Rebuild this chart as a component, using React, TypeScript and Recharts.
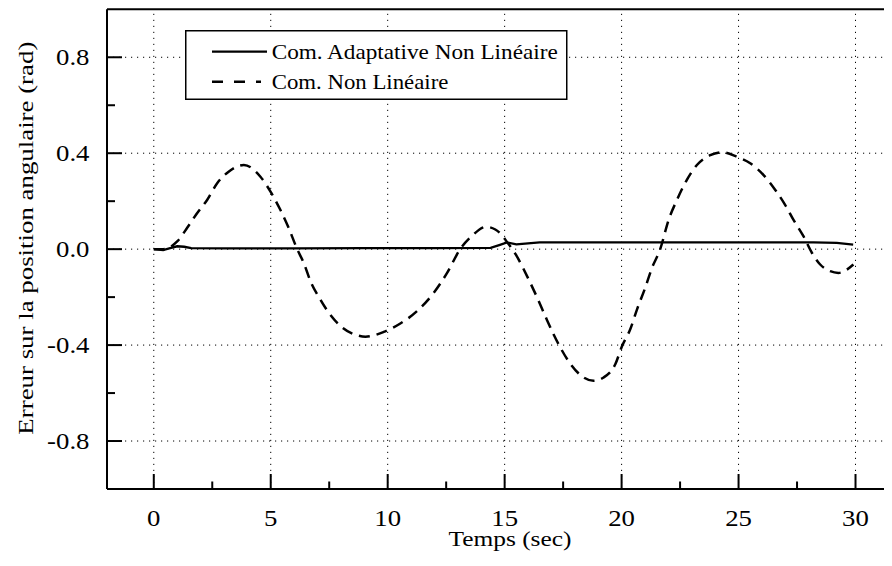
import React from 'react';
import { LineChart, Line, XAxis, YAxis, ReferenceLine, Legend, Label } from 'recharts';

// ---- data ----
const nonLinTime = [
  0, 0.4, 1.0, 1.45, 1.85, 2.28, 2.71, 3.2, 3.85, 4.56, 4.99, 5.41, 5.77, 6.13, 6.41, 6.7,
  7.12, 7.48, 7.98, 8.69, 9.05, 9.83, 10.54, 11.26, 11.97, 12.54, 13.1, 13.6, 14.2, 14.6,
  14.85, 15.1, 15.46, 16.03, 16.38, 16.74, 17.09, 17.38, 17.81, 18.38, 18.8, 19.23, 19.73,
  20.02, 20.37, 20.66, 21.01, 21.3, 21.65, 22.01, 22.37, 22.79, 23.22, 23.79, 24.29, 24.93,
  25.5, 26.07, 26.57, 26.99, 27.35, 27.78, 28.14, 28.49, 28.92, 29.27, 29.91,
];
const nonLinValue = [
  0, 0.0, 0.032, 0.092, 0.15, 0.205, 0.275, 0.323, 0.351, 0.302, 0.24, 0.164, 0.088, 0, -0.057, -0.134,
  -0.21, -0.265, -0.32, -0.359, -0.365, -0.345, -0.31, -0.258, -0.182, -0.099, 0, 0.055, 0.093, 0.082,
  0.062, 0.03, -0.02, -0.127, -0.2, -0.28, -0.355, -0.41, -0.478, -0.535, -0.549, -0.535, -0.48,
  -0.404, -0.334, -0.251, -0.161, -0.078, 0, 0.122, 0.206, 0.289, 0.351, 0.392, 0.404, 0.385,
  0.358, 0.309, 0.247, 0.185, 0.122, 0.053, -0.016, -0.064, -0.092, -0.099, -0.064,
];
const adaptTime = [
  0, 0.4, 0.7, 1.0, 1.3, 1.6, 3, 6, 9, 12, 14.4, 14.8, 15.1, 15.5, 16, 16.5, 20, 25, 28.2, 29.2, 29.9,
];
const adaptValue = [
  0, -0.004, 0.004, 0.012, 0.01, 0.004, 0.003, 0.003, 0.004, 0.004, 0.005, 0.018, 0.028, 0.02, 0.024,
  0.028, 0.028, 0.028, 0.028, 0.026, 0.019,
];

const xMajorTicks = [0, 5, 10, 15, 20, 25, 30];
const xMinorTicks = [2.5, 7.5, 12.5, 17.5, 22.5, 27.5];
const xTickLabels = ['0', '5', '10', '15', '20', '25', '30'];
const yMajorTicks = [0.8, 0.4, 0, -0.4, -0.8];
const yMinorTicks = [0.6, 0.2, -0.2, -0.6];
const yTickLabels = ['0.8', '0.4', '0.0', '-0.4', '-0.8'];

const seriesNames = ['Com. Adaptative Non Linéaire', 'Com. Non Linéaire'];
const xTitle = 'Temps (sec)';
const yTitle = 'Erreur sur la position angulaire (rad)';

const nonLinData = nonLinTime.map((t, i) => ({ t, v: nonLinValue[i] }));
const adaptData = adaptTime.map((t, i) => ({ t, v: adaptValue[i] }));

const FONT = "'Liberation Serif', 'Times New Roman', serif";
const DASH = '11 7';
const STRETCH = 1.14;

function XTick(props: any) {
  const { x, y, payload } = props;
  const i = xMajorTicks.indexOf(payload.value);
  const major = i >= 0;
  return (
    <g>
      <line x1={x} x2={x} y1={y} y2={y - (major ? 15 : 7.5)} stroke="#000" strokeWidth={2} />
      {major && (
        <text
          transform={`translate(${x}, ${y + 37.3}) scale(${STRETCH}, 1)`}
          textAnchor="middle"
          fontFamily={FONT}
          fontSize={23.5}
          fill="#000"
        >
          {xTickLabels[i]}
        </text>
      )}
    </g>
  );
}

function YTick(props: any) {
  const { x, y, payload } = props;
  const i = yMajorTicks.indexOf(payload.value);
  const major = i >= 0;
  return (
    <g>
      <line x1={x} x2={x + (major ? 15 : 8)} y1={y} y2={y} stroke="#000" strokeWidth={2} />
      {major && (
        <text
          transform={`translate(${x - 17.5}, ${y + 8.2}) scale(${STRETCH}, 1)`}
          textAnchor="end"
          fontFamily={FONT}
          fontSize={23.5}
          fill="#000"
        >
          {yTickLabels[i]}
        </text>
      )}
    </g>
  );
}

function LegendBox() {
  return (
    <svg width={383} height={71} style={{ display: 'block' }}>
      <rect x={0.75} y={0.75} width={381} height={68.5} fill="#fff" stroke="#000" strokeWidth={1.5} />
      <line x1={27} x2={82} y1={21.7} y2={21.7} stroke="#000" strokeWidth={2.3} />
      <text x={86.7} y={29.3} fontFamily={FONT} fontSize={22} fill="#000" textLength={286} lengthAdjust="spacingAndGlyphs">
        {seriesNames[0]}
      </text>
      <line x1={27} x2={76} y1={51.7} y2={51.7} stroke="#000" strokeWidth={2.4} strokeDasharray="11 11" />
      <text x={86.7} y={59.3} fontFamily={FONT} fontSize={22} fill="#000" textLength={176.7} lengthAdjust="spacingAndGlyphs">
        {seriesNames[1]}
      </text>
    </svg>
  );
}

export default function App() {
  return (
    <LineChart width={884} height={558} margin={{ top: 1.3, right: 0, bottom: 0, left: 0 }}>
      <XAxis
        type="number"
        dataKey="t"
        domain={[-2, 31.56]}
        allowDataOverflow
        ticks={[...xMajorTicks, ...xMinorTicks]}
        interval={0}
        tickLine={false}
        tickSize={0}
        tickMargin={0}
        tick={(p: any) => <XTick {...p} />}
        height={77}
        axisLine={{ stroke: '#000', strokeWidth: 2 }}
      >
        <Label
          content={(p: any) => {
            const vb = p.viewBox || { x: 99, y: 481 };
            return (
              <text x={vb.x + 403} y={vb.y + 56.5} textAnchor="middle" fontFamily={FONT} fontSize={21} fill="#000" textLength={123} lengthAdjust="spacingAndGlyphs">
                {xTitle}
              </text>
            );
          }}
        />
      </XAxis>
      <YAxis
        type="number"
        domain={[-1, 1]}
        allowDataOverflow
        ticks={[...yMajorTicks, ...yMinorTicks]}
        interval={0}
        tickLine={false}
        tickSize={0}
        tickMargin={0}
        tick={(p: any) => <YTick {...p} />}
        width={99}
        axisLine={{ stroke: '#000', strokeWidth: 2 }}
      >
        <Label
          content={(p: any) => {
            const vb = p.viewBox || { x: 0, y: 1.3, width: 99, height: 479.7 };
            const cx = vb.x + vb.width - 73.7;
            const cy = vb.y + vb.height / 2 - 11;
            return (
              <text transform={`translate(${cx}, ${cy}) rotate(-90)`} textAnchor="middle" fontFamily={FONT} fontSize={22} fill="#000" textLength={393} lengthAdjust="spacingAndGlyphs">
                {yTitle}
              </text>
            );
          }}
        />
      </YAxis>
      {xMajorTicks.map((v) => (
        <ReferenceLine key={'gx' + v} x={v} stroke="#000" strokeWidth={1} strokeDasharray="1.2 4.8" />
      ))}
      {yMajorTicks.map((v) => (
        <ReferenceLine key={'gy' + v} y={v} stroke="#000" strokeWidth={1} strokeDasharray="1.2 4.8" />
      ))}
      <ReferenceLine y={1} stroke="#000" strokeWidth={2} />
      <Line
        data={nonLinData}
        dataKey="v"
        name={seriesNames[1]}
        type="monotone"
        stroke="#000"
        strokeWidth={2.5}
        strokeDasharray={DASH}
        dot={false}
        activeDot={false}
        isAnimationActive={false}
      />
      <Line
        data={adaptData}
        dataKey="v"
        name={seriesNames[0]}
        type="linear"
        stroke="#000"
        strokeWidth={2.3}
        dot={false}
        activeDot={false}
        isAnimationActive={false}
      />
      <Legend
        layout="horizontal"
        align="center"
        verticalAlign="middle"
        content={() => <LegendBox />}
        wrapperStyle={{ left: 177, top: 22, width: 383, height: 71 }}
      />
    </LineChart>
  );
}
